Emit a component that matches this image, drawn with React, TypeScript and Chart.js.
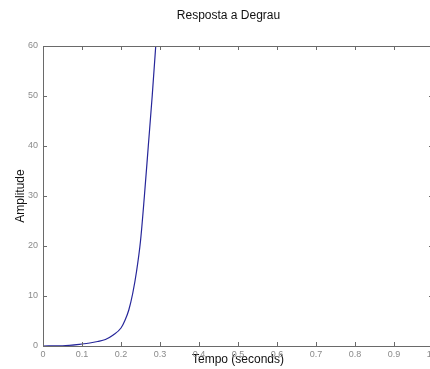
import React, { useEffect, useRef } from "react";
import { Chart, registerables } from "chart.js";

Chart.register(...registerables);

const times = [0, 0.05, 0.1, 0.12, 0.14, 0.16, 0.18, 0.2, 0.21, 0.22, 0.23, 0.24, 0.25, 0.26, 0.27, 0.28, 0.29, 0.3];
const amplitude = [0, 0.05, 0.4, 0.6, 0.9, 1.3, 2.2, 3.6, 5.1, 7.2, 10.5, 15, 21, 30, 40, 50, 61, 73];
const titleText = "Resposta a Degrau";
const xLabel = "Tempo (seconds)";
const yLabel = "Amplitude";

const FONT = "'Liberation Sans', Arial, Helvetica, sans-serif";
const AXIS = "#6a6a6a";

const boxTicks = {
  id: "boxTicks",
  afterDatasetsDraw(chart: any) {
    const { ctx, chartArea } = chart;
    const { left, right, top, bottom } = chartArea;
    const xs = chart.scales.x;
    const ys = chart.scales.y;
    const L = 4;
    ctx.save();
    ctx.strokeStyle = AXIS;
    ctx.lineWidth = 1;
    ctx.beginPath();
    ctx.rect(Math.round(left) + 0.5, Math.round(top) + 0.5, Math.round(right - left), Math.round(bottom - top));
    xs.ticks.forEach((t: any) => {
      const px = Math.round(xs.getPixelForValue(t.value)) + 0.5;
      ctx.moveTo(px, bottom);
      ctx.lineTo(px, bottom - L);
      ctx.moveTo(px, top);
      ctx.lineTo(px, top + L);
    });
    ys.ticks.forEach((t: any) => {
      const py = Math.round(ys.getPixelForValue(t.value)) + 0.5;
      ctx.moveTo(left, py);
      ctx.lineTo(left + L, py);
      ctx.moveTo(right, py);
      ctx.lineTo(right - L, py);
    });
    ctx.stroke();
    ctx.restore();
  },
};

export default function App() {
  const ref = useRef<HTMLCanvasElement | null>(null);
  useEffect(() => {
    if (!ref.current) return;
    const chart = new Chart(ref.current, {
      type: "line",
      data: {
        datasets: [
          {
            data: times.map((t, i) => ({ x: t, y: amplitude[i] })),
            borderColor: "#26269a",
            borderWidth: 1.2,
            pointRadius: 0,
            cubicInterpolationMode: "monotone",
            fill: false,
          },
        ],
      },
      options: {
        animation: false,
        responsive: true,
        maintainAspectRatio: false,
        layout: { padding: { left: 24, right: 30, top: 0, bottom: 0 } },
        plugins: {
          legend: { display: false },
          tooltip: { enabled: false },
          title: {
            display: true,
            text: titleText,
            color: "#111",
            font: { family: FONT, size: 12, weight: "normal" },
            padding: { top: 8, bottom: 23.6 },
          },
        },
        scales: {
          x: {
            type: "linear",
            min: 0,
            max: 1,
            grid: { display: false, drawTicks: false },
            border: { display: false },
            ticks: {
              stepSize: 0.1,
              autoSkip: false,
              maxRotation: 0,
              padding: 3,
              color: "#8a8a8a",
              font: { family: FONT, size: 9 },
            },
            title: {
              display: true,
              text: xLabel,
              color: "#111",
              font: { family: FONT, size: 12 },
              padding: { top: 0, bottom: 2 },
            },
            afterFit(scale: any) {
              scale.height = 23;
            },
          },
          y: {
            min: 0,
            max: 60,
            grid: { display: false, drawTicks: false },
            border: { display: false },
            ticks: {
              stepSize: 10,
              padding: 5,
              color: "#8a8a8a",
              font: { family: FONT, size: 9 },
            },
            title: {
              display: true,
              text: yLabel,
              color: "#111",
              font: { family: FONT, size: 12 },
              padding: { top: -11, bottom: 0 },
            },
            afterFit(scale: any) {
              scale.width = 19;
            },
          },
        },
      },
      plugins: [boxTicks],
    } as any);
    return () => chart.destroy();
  }, []);
  return (
    <div style={{ position: "fixed", left: 0, top: 0, width: 463, height: 369, background: "#fff" }}>
      <canvas ref={ref} />
    </div>
  );
}
